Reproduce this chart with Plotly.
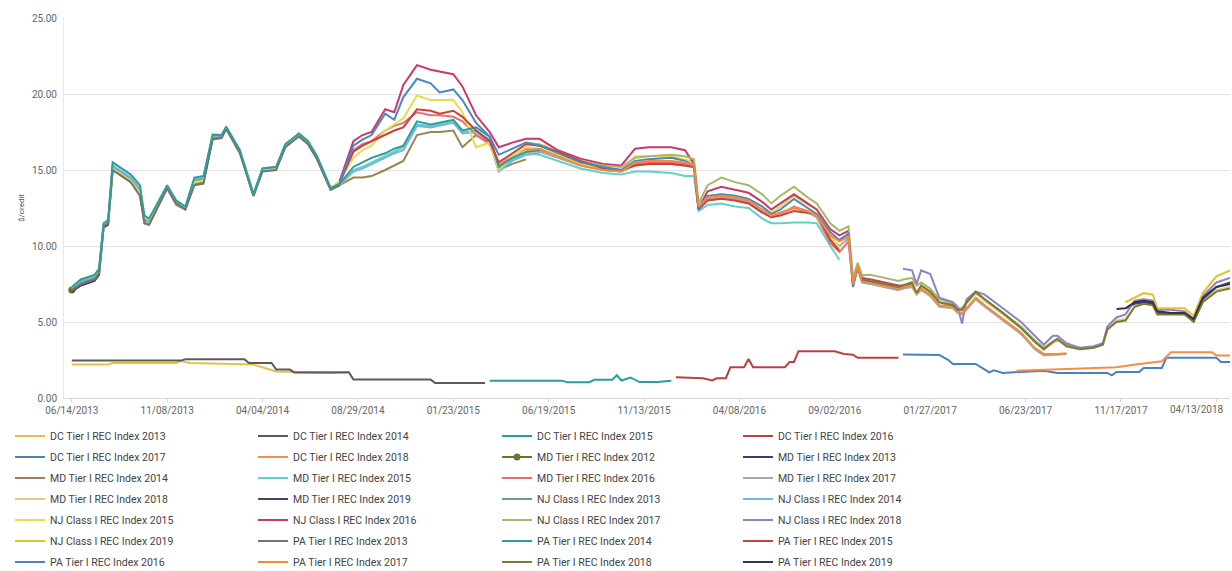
import plotly.graph_objects as go

# ---------------- x categories ----------------
tick_dates = ["2013-06-14", "2013-11-08", "2014-04-04", "2014-08-29", "2015-01-23", "2015-06-19",
              "2015-11-13", "2016-04-08", "2016-09-02", "2017-01-27", "2017-06-23", "2017-11-17",
              "2018-04-13"]
tick_labels = ["06/14/2013", "11/08/2013", "04/04/2014", "08/29/2014", "01/23/2015", "06/19/2015",
               "11/13/2015", "04/08/2016", "09/02/2016", "01/27/2017", "06/23/2017", "11/17/2017",
               "04/13/2018"]

# shared observation dates for the MD / NJ / PA indices
upper_dates_1 = ["2013-06-14", "2013-06-28", "2013-07-19", "2013-07-26", "2013-08-02", "2013-08-09",
                 "2013-08-16", "2013-09-13", "2013-09-27", "2013-10-04", "2013-10-11", "2013-11-08",
                 "2013-11-22", "2013-12-06", "2013-12-20", "2014-01-03", "2014-01-17", "2014-01-31",
                 "2014-02-07", "2014-02-28", "2014-03-21", "2014-04-04", "2014-04-25", "2014-05-09",
                 "2014-05-30", "2014-06-13", "2014-06-27", "2014-07-18", "2014-08-01"]
upper_dates_2 = ["2014-08-22", "2014-09-05", "2014-09-19", "2014-10-10", "2014-10-24", "2014-11-07",
                 "2014-11-28", "2014-12-19", "2015-01-02", "2015-01-23", "2015-02-06", "2015-02-27",
                 "2015-03-20", "2015-04-03", "2015-04-24", "2015-05-15", "2015-06-05", "2015-07-03",
                 "2015-08-07", "2015-09-11", "2015-10-09", "2015-10-30", "2015-11-20", "2015-12-25",
                 "2016-01-15", "2016-01-29", "2016-02-05", "2016-02-19", "2016-03-11", "2016-04-01",
                 "2016-04-22", "2016-05-13", "2016-05-27", "2016-06-10", "2016-07-01", "2016-07-22",
                 "2016-08-05", "2016-08-26", "2016-09-09", "2016-09-23", "2016-09-30", "2016-10-07",
                 "2016-10-14", "2016-10-28", "2016-11-18", "2016-12-09", "2016-12-16", "2016-12-30",
                 "2017-01-06", "2017-01-13", "2017-01-27", "2017-02-10", "2017-03-03", "2017-03-10",
                 "2017-03-17", "2017-03-24", "2017-04-07", "2017-04-21", "2017-05-19", "2017-06-16",
                 "2017-07-07", "2017-07-21", "2017-08-04", "2017-08-11", "2017-08-25", "2017-09-15",
                 "2017-10-06", "2017-10-20", "2017-10-27", "2017-11-10", "2017-11-24", "2017-12-08",
                 "2017-12-22", "2018-01-05", "2018-01-12", "2018-02-02", "2018-02-23", "2018-03-09",
                 "2018-03-23", "2018-04-13", "2018-05-04"]
upper_dates = upper_dates_1 + upper_dates_2

# ---------------- DC Tier I (own dates) ----------------
dc_2013_dates = ["2013-06-14", "2013-08-09", "2013-08-16", "2013-11-22", "2013-11-29", "2013-12-13",
                 "2014-03-21", "2014-04-18", "2014-04-25", "2014-07-25"]
dc_2013 = [2.2, 2.2, 2.3, 2.3, 2.45, 2.3, 2.2, 1.8, 1.75, 1.65]

dc_2014_dates = ["2013-06-14", "2013-11-29", "2013-12-06", "2014-03-07", "2014-03-14", "2014-04-18",
                 "2014-04-25", "2014-05-16", "2014-05-23", "2014-08-15", "2014-08-22", "2014-12-19",
                 "2014-12-26", "2015-03-13"]
dc_2014 = [2.46, 2.46, 2.55, 2.55, 2.3, 2.3, 1.87, 1.87, 1.68, 1.7, 1.21, 1.21, 0.99, 0.99]

dc_2015_dates = ["2015-03-20", "2015-07-10", "2015-07-17", "2015-08-21", "2015-08-28", "2015-09-25",
                 "2015-10-02", "2015-10-09", "2015-10-23", "2015-11-06", "2015-12-04", "2015-12-25"]
dc_2015 = [1.14, 1.14, 1.04, 1.04, 1.2, 1.2, 1.5, 1.15, 1.35, 1.05, 1.05, 1.14]

dc_2016_dates = ["2016-01-01", "2016-02-12", "2016-02-26", "2016-03-04", "2016-03-18", "2016-03-25",
                 "2016-04-15", "2016-04-22", "2016-04-29", "2016-06-17", "2016-06-24", "2016-07-01",
                 "2016-07-08", "2016-09-02", "2016-09-16", "2016-09-30", "2016-10-07", "2016-12-09"]
dc_2016 = [1.36, 1.3, 1.16, 1.3, 1.3, 2.02, 2.02, 2.57, 2.02, 2.02, 2.37, 2.37, 3.08, 3.08, 2.9, 2.85,
           2.64, 2.64]

dc_2017_dates = ["2016-12-16", "2017-02-10", "2017-02-24", "2017-03-03", "2017-04-07", "2017-04-28",
                 "2017-05-05", "2017-05-19", "2017-07-21", "2017-08-11", "2017-10-27", "2017-11-03",
                 "2017-11-10", "2017-12-15", "2017-12-22", "2018-01-19", "2018-01-26", "2018-04-13",
                 "2018-04-20", "2018-05-04"]
dc_2017 = [2.86, 2.83, 2.5, 2.24, 2.24, 1.69, 1.82, 1.65, 1.8, 1.65, 1.65, 1.49, 1.71, 1.71, 1.98, 1.98,
           2.64, 2.64, 2.37, 2.37]

dc_2018_dates = ["2017-06-09", "2017-10-06", "2017-11-10", "2017-12-15", "2018-01-19", "2018-02-02",
                 "2018-04-06", "2018-04-13", "2018-05-04"]
dc_2018 = [1.8, 1.94, 2.02, 2.24, 2.42, 3.01, 3.01, 2.8, 2.8]

# ---------------- MD / NJ / PA (values from their first date on the shared grid) ----------------
md_2012 = [7.1]
md_2013 = [7.0, 7.4, 7.7, 8.1, 11.2, 11.4, 15.1, 14.3, 13.5, 11.6, 11.5, 13.9, 12.8, 12.5, 14.2, 14.3,
           17.1, 17.2, 17.8, 16.2, 13.4, 15.0, 15.1, 16.6, 17.3, 16.8, 15.8, 13.7, 14.1]
md_2014 = [7.1, 7.5, 7.9, 8.3, 11.3, 11.5, 15.0, 14.2, 13.4, 11.5, 11.4, 13.8, 12.7, 12.4, 14.1, 14.2,
           17.1, 17.2, 17.8, 16.2, 13.3, 15.0, 15.1, 16.5, 17.3, 16.8, 15.7, 13.7, 14.0,
           14.5, 14.5, 14.6, 15.0, 15.3, 15.6, 17.3, 17.5, 17.5, 17.6, 16.5, 17.3, 16.8, 15.0, 15.4, 15.7]
md_2015 = [14.0,
           15.0, 15.2, 15.5, 15.9, 16.2, 16.5, 18.0, 17.9, 18.0, 18.2, 17.5, 17.6, 17.0, 15.1, 15.7, 16.1,
           16.0, 15.6, 15.1, 14.8, 14.7, 14.9, 14.9, 14.8, 14.6,
           14.6, 12.3, 12.7, 12.8, 12.6, 12.5, 11.8, 11.5, 11.5, 11.55, 11.55, 11.5, 10.0, 9.1]
md_2016 = [14.1,
           16.3, 16.7, 16.9, 17.6, 17.9, 18.1, 18.8, 18.6, 18.6, 18.5, 18.2, 17.3, 16.7, 15.3, 15.9, 16.4,
           16.3, 15.9, 15.4, 15.0, 14.9, 15.4, 15.5, 15.5, 15.4,
           15.2, 12.5, 13.1, 13.2, 13.1, 12.9, 12.3, 11.9, 12.1, 12.6, 12.3, 11.9, 10.2, 9.6, 10.3, 7.4,
           8.5, 7.6, 7.5, 7.3, 7.1, 7.2, 7.4]
md_2017 = [16.2,
           16.2, 15.8, 15.3, 15.0, 14.9, 15.3, 15.4, 15.4, 15.3,
           15.2, 12.5, 13.1, 13.2, 13.1, 12.9, 12.3, 11.9, 12.1, 12.5, 12.2, 11.9, 10.5, 10.0, 10.5, 7.4,
           8.6, 7.6, 7.5, 7.3, 7.1,
           7.2, 7.3, 6.8, 7.1, 6.7, 6.0, 5.9, 5.6, 5.5, 5.8, 6.5, 6.0, 5.1, 4.2, 3.2, 2.8, 2.85, 2.85, 2.9]
md_2018 = [7.7, 7.6, 7.4, 7.2,
           7.3, 7.5, 6.8, 7.3, 6.9, 6.3, 6.0, 5.7, 5.8, 6.2, 6.9, 6.4, 5.5, 4.6, 3.7, 3.2, 3.6, 3.8, 3.4,
           3.2, 3.3, 3.5,
           4.5, 5.1, 5.2, 6.0, 6.3, 6.2, 5.6, 5.6, 5.5, 5.1, 6.4, 7.1, 7.3]
md_2019 = [5.9, 6.2, 6.3, 6.2, 5.6, 5.6, 5.6, 5.1, 6.5, 7.3, 7.6]

nj_2013 = [7.2, 7.6, 8.0, 8.3, 11.4, 11.6, 15.2, 14.4, 13.6, 11.7, 11.5, 13.9, 12.9, 12.5, 14.3, 14.4,
           17.2, 17.3, 17.8, 16.3, 13.4, 15.1, 15.2, 16.6, 17.4, 16.9, 15.8, 13.8, 14.1]
nj_2014 = [7.2, 7.7, 8.0, 8.4, 11.4, 11.6, 15.3, 14.5, 13.8, 11.8, 11.6, 13.9, 12.9, 12.5, 14.4, 14.5,
           17.2, 17.3, 17.8, 16.2, 13.4, 15.0, 15.1, 16.6, 17.3, 16.8, 15.8, 13.7, 14.0,
           14.9, 15.1, 15.4, 15.8, 16.1, 16.3, 17.9, 17.8, 17.9, 18.1, 17.4, 17.5, 16.9, 14.9, 15.6, 16.0,
           16.1]
nj_2015 = [7.3, 7.8, 8.1, 8.4, 11.4, 11.6, 15.1, 14.3, 13.5, 11.5, 11.5, 13.9, 12.8, 12.4, 14.2, 14.3,
           17.4, 17.3, 17.8, 16.3, 13.4, 15.0, 15.1, 16.6, 17.4, 16.9, 15.9, 13.8, 14.3,
           15.8, 16.3, 16.6, 17.6, 18.0, 18.4, 19.9, 19.6, 19.6, 19.6, 18.8, 16.5, 16.8, 15.0, 15.9, 16.5,
           16.4, 16.0, 15.4, 15.1, 15.0, 15.9, 15.9, 15.9, 15.7,
           15.5, 12.5, 13.2, 13.4, 13.3, 13.1, 12.6, 12.2, 12.6, 13.3, 12.7, 12.4, 10.6, 9.9]
nj_2016 = [14.3,
           16.9, 17.3, 17.5, 19.0, 18.8, 20.6, 21.9, 21.6, 21.5, 21.3, 20.5, 18.6, 17.5, 16.5, 16.8, 17.05,
           17.05, 16.3, 15.75, 15.4, 15.3, 16.4, 16.5, 16.5, 16.3,
           15.4, 12.5, 13.6, 13.9, 13.7, 13.5, 12.9, 12.4, 12.8, 13.4, 12.8, 12.4, 11.1, 10.7, 11.0, 7.6,
           8.7, 7.9, 7.8, 7.6, 7.4, 7.4, 7.6]
nj_2017 = [16.8,
           16.7, 16.2, 15.6, 15.3, 15.2, 15.8, 15.9, 16.0, 15.9,
           15.7, 12.8, 14.0, 14.5, 14.2, 14.0, 13.4, 12.8, 13.3, 13.9, 13.2, 12.8, 11.5, 11.0, 11.3, 7.9,
           8.9, 8.1, 8.1, 7.9, 7.7,
           7.8, 7.9, 7.4, 7.6, 7.2, 6.5, 6.2, 5.9, 5.9, 6.3, 6.9, 6.5, 5.6, 4.7, 3.8, 3.3, 3.7, 3.8, 3.5,
           3.3]
nj_2018 = [8.5, 8.4, 7.5, 8.4, 8.15, 6.6, 6.3, 6.0, 4.9, 6.5, 7.0, 6.8, 5.9, 5.0, 4.1, 3.5, 4.1, 4.1,
           3.6, 3.3, 3.4, 3.6,
           4.7, 5.3, 5.5, 6.4, 6.5, 6.4, 5.8, 5.8, 5.7, 5.2, 6.7, 7.6, 7.9]
nj_2019 = [6.3, 6.6, 6.9, 6.8, 5.9, 5.9, 5.9, 5.4, 6.9, 8.0, 8.4]

pa_2013 = [7.1, 7.5, 7.8, 8.2, 11.3, 11.5, 15.0, 14.2, 13.3, 11.5, 11.4, 13.8, 12.8, 12.4, 14.0, 14.1,
           17.0, 17.1, 17.7, 16.1, 13.3, 14.9, 15.0, 16.5, 17.2, 16.7, 15.7, 13.7, 14.0]
pa_2014 = [7.3, 7.8, 8.1, 8.5, 11.5, 11.7, 15.5, 14.7, 14.0, 12.0, 11.8, 14.0, 13.0, 12.6, 14.5, 14.6,
           17.3, 17.3, 17.85, 16.3, 13.4, 15.1, 15.2, 16.7, 17.4, 16.9, 15.9, 13.8, 14.1,
           15.2, 15.5, 15.8, 16.1, 16.4, 16.6, 18.2, 18.0, 18.1, 18.3, 17.6, 17.8, 17.2, 15.2, 15.8, 16.2,
           16.3]
pa_2015 = [14.2,
           16.2, 16.6, 16.9, 17.3, 17.6, 17.8, 19.0, 18.9, 18.7, 18.9, 18.5, 17.6, 16.9, 15.5, 16.1, 16.7,
           16.6, 16.2, 15.6, 15.1, 15.0, 15.3, 15.4, 15.4, 15.3,
           15.2, 12.4, 13.0, 13.1, 13.0, 12.8, 12.2, 11.9, 12.0, 12.3, 12.2, 12.1, 10.4, 9.7]
pa_2016 = [14.2,
           16.6, 17.0, 17.3, 18.7, 18.3, 19.8, 21.0, 20.7, 20.1, 20.3, 19.6, 18.1, 17.2, 16.0, 16.4, 16.8,
           16.6, 16.1, 15.5, 15.2, 15.0, 15.6, 15.7, 15.8, 15.6,
           15.3, 12.4, 13.3, 13.4, 13.3, 13.1, 12.6, 12.1, 12.4, 13.1, 12.5, 12.1, 10.9, 10.4, 10.8, 7.3,
           8.6, 7.7, 7.6, 7.4, 7.2, 7.3, 7.5]
pa_2017 = [16.3,
           16.4, 15.9, 15.3, 15.0, 14.9, 15.5, 15.6, 15.6, 15.5,
           15.3, 12.6, 13.2, 13.3, 13.2, 13.0, 12.4, 12.0, 12.2, 12.5, 12.3, 12.0, 10.7, 10.3, 10.6, 7.5,
           8.7, 7.7, 7.6, 7.4, 7.2,
           7.3, 7.4, 6.9, 7.2, 6.8, 6.1, 6.0, 5.7, 5.6, 5.9, 6.6, 6.1, 5.2, 4.3, 3.3, 2.9, 2.9, 2.9, 2.95]
pa_2018 = [7.8, 7.7, 7.5, 7.3,
           7.4, 7.6, 6.9, 7.4, 7.0, 6.3, 6.1, 5.8, 5.8, 6.3, 7.0, 6.5, 5.6, 4.6, 3.7, 3.2, 3.7, 3.9, 3.4,
           3.2, 3.3, 3.5,
           4.5, 5.0, 5.1, 6.0, 6.2, 6.1, 5.5, 5.5, 5.5, 5.0, 6.3, 7.0, 7.2]
pa_2019 = [5.85, 5.9, 6.3, 6.4, 6.3, 5.7, 5.6, 5.6, 5.2, 6.6, 7.3, 7.5]

# first observation date of each MD / NJ / PA series on the shared grid
first_dates = {
    "MD Tier I REC Index 2012": "2013-06-14", "MD Tier I REC Index 2013": "2013-06-14",
    "MD Tier I REC Index 2014": "2013-06-14", "MD Tier I REC Index 2015": "2014-08-01",
    "MD Tier I REC Index 2016": "2014-08-01", "MD Tier I REC Index 2017": "2015-05-15",
    "MD Tier I REC Index 2018": "2016-10-14", "MD Tier I REC Index 2019": "2017-11-24",
    "NJ Class I REC Index 2013": "2013-06-14", "NJ Class I REC Index 2014": "2013-06-14",
    "NJ Class I REC Index 2015": "2013-06-14", "NJ Class I REC Index 2016": "2014-08-01",
    "NJ Class I REC Index 2017": "2015-05-15", "NJ Class I REC Index 2018": "2016-12-16",
    "NJ Class I REC Index 2019": "2017-11-24",
    "PA Tier I REC Index 2013": "2013-06-14", "PA Tier I REC Index 2014": "2013-06-14",
    "PA Tier I REC Index 2015": "2014-08-01", "PA Tier I REC Index 2016": "2014-08-01",
    "PA Tier I REC Index 2017": "2015-05-15", "PA Tier I REC Index 2018": "2016-10-14",
    "PA Tier I REC Index 2019": "2017-11-10",
}

series = [
    ("DC Tier I REC Index 2013", dc_2013_dates, dc_2013, "#e6c04a"),
    ("DC Tier I REC Index 2014", dc_2014_dates, dc_2014, "#5b5b5b"),
    ("DC Tier I REC Index 2015", dc_2015_dates, dc_2015, "#2a9d9f"),
    ("DC Tier I REC Index 2016", dc_2016_dates, dc_2016, "#b5433f"),
    ("DC Tier I REC Index 2017", dc_2017_dates, dc_2017, "#4a7fc0"),
    ("DC Tier I REC Index 2018", dc_2018_dates, dc_2018, "#f28e4a"),
    ("MD Tier I REC Index 2012", None, md_2012, "#6b7330"),
    ("MD Tier I REC Index 2013", None, md_2013, "#3c3c6e"),
    ("MD Tier I REC Index 2014", None, md_2014, "#9a8454"),
    ("MD Tier I REC Index 2015", None, md_2015, "#63d0c9"),
    ("MD Tier I REC Index 2016", None, md_2016, "#ec6d6d"),
    ("MD Tier I REC Index 2017", None, md_2017, "#a9a9a9"),
    ("MD Tier I REC Index 2018", None, md_2018, "#e3c98e"),
    ("MD Tier I REC Index 2019", None, md_2019, "#45475f"),
    ("NJ Class I REC Index 2013", None, nj_2013, "#6d9a98"),
    ("NJ Class I REC Index 2014", None, nj_2014, "#74b6e2"),
    ("NJ Class I REC Index 2015", None, nj_2015, "#e5de4a"),
    ("NJ Class I REC Index 2016", None, nj_2016, "#c83a6a"),
    ("NJ Class I REC Index 2017", None, nj_2017, "#a5b96b"),
    ("NJ Class I REC Index 2018", None, nj_2018, "#8d83c4"),
    ("NJ Class I REC Index 2019", None, nj_2019, "#e7c12c"),
    ("PA Tier I REC Index 2013", None, pa_2013, "#737373"),
    ("PA Tier I REC Index 2014", None, pa_2014, "#2d9f9b"),
    ("PA Tier I REC Index 2015", None, pa_2015, "#c9413f"),
    ("PA Tier I REC Index 2016", None, pa_2016, "#4b85c6"),
    ("PA Tier I REC Index 2017", None, pa_2017, "#f38b3d"),
    ("PA Tier I REC Index 2018", None, pa_2018, "#7d7b33"),
    ("PA Tier I REC Index 2019", None, pa_2019, "#34344f"),
]

legend_ids = ["legend", "legend2", "legend3", "legend4"]

fig = go.Figure()
for k, (name, dates, vals, color) in enumerate(series):
    if dates is None:
        i0 = upper_dates.index(first_dates[name])
        dates = upper_dates[i0:i0 + len(vals)]
    assert len(dates) == len(vals), name
    is_marker = name == "MD Tier I REC Index 2012"
    fig.add_trace(go.Scatter(
        x=dates, y=vals, name=name,
        mode="lines+markers" if is_marker else "lines",
        line=dict(color=color, width=2),
        marker=dict(size=7, color=color),
        legend=legend_ids[k % 4], legendgroup=name,
    ))

leg_common = dict(orientation="v", xanchor="left", yanchor="top", y=-0.0618,
                  traceorder="grouped", tracegroupgap=2.0, bgcolor="rgba(0,0,0,0)",
                  font=dict(family="Roboto, sans-serif", size=10.5, color="#444444"))
leg_x = [-0.0463, 0.1621, 0.3714, 0.578]

# the last tick label sits shifted left so that it stays inside the chart, as in the original
shown_ticktext = tick_labels[:-1] + [""]

fig.update_layout(
    width=1232, height=571,
    margin=dict(l=64, r=2, t=18, b=173, autoexpand=False),
    paper_bgcolor="white", plot_bgcolor="white",
    font=dict(family="Roboto, sans-serif", size=10, color="#555555"),
    showlegend=True,
    xaxis=dict(type="date", range=["2013-06-02", "2018-05-04"],
               tickvals=tick_dates, ticktext=shown_ticktext,
               showgrid=False, showline=True, linecolor="#d6d6d6", linewidth=1,
               ticks="outside", ticklen=3, tickcolor="#d6d6d6",
               tickfont=dict(size=10, color="#666666"), zeroline=False),
    yaxis=dict(range=[0, 25], dtick=5, tickformat=".2f",
               showgrid=True, gridcolor="#e2e2e2", gridwidth=1,
               showline=True, linecolor="#e8e8e8", zeroline=False,
               ticks="", ticklabelstandoff=4,
               tickfont=dict(size=10, color="#666666"),
               title=dict(text="$/credit", font=dict(size=8, color="#555555"), standoff=6)),
    legend=dict(leg_common, x=leg_x[0]),
    legend2=dict(leg_common, x=leg_x[1]),
    legend3=dict(leg_common, x=leg_x[2]),
    legend4=dict(leg_common, x=leg_x[3]),
    annotations=[dict(x=tick_dates[-1], xref="x", y=0, yref="paper", yanchor="top",
                      xanchor="center", xshift=-19, yshift=-4, showarrow=False,
                      text=tick_labels[-1], font=dict(size=10, color="#666666"))],
)

fig.write_html("out.html", config={"displayModeBar": False},
               post_script="document.body.style.margin='0px';document.body.style.overflow='hidden';")
